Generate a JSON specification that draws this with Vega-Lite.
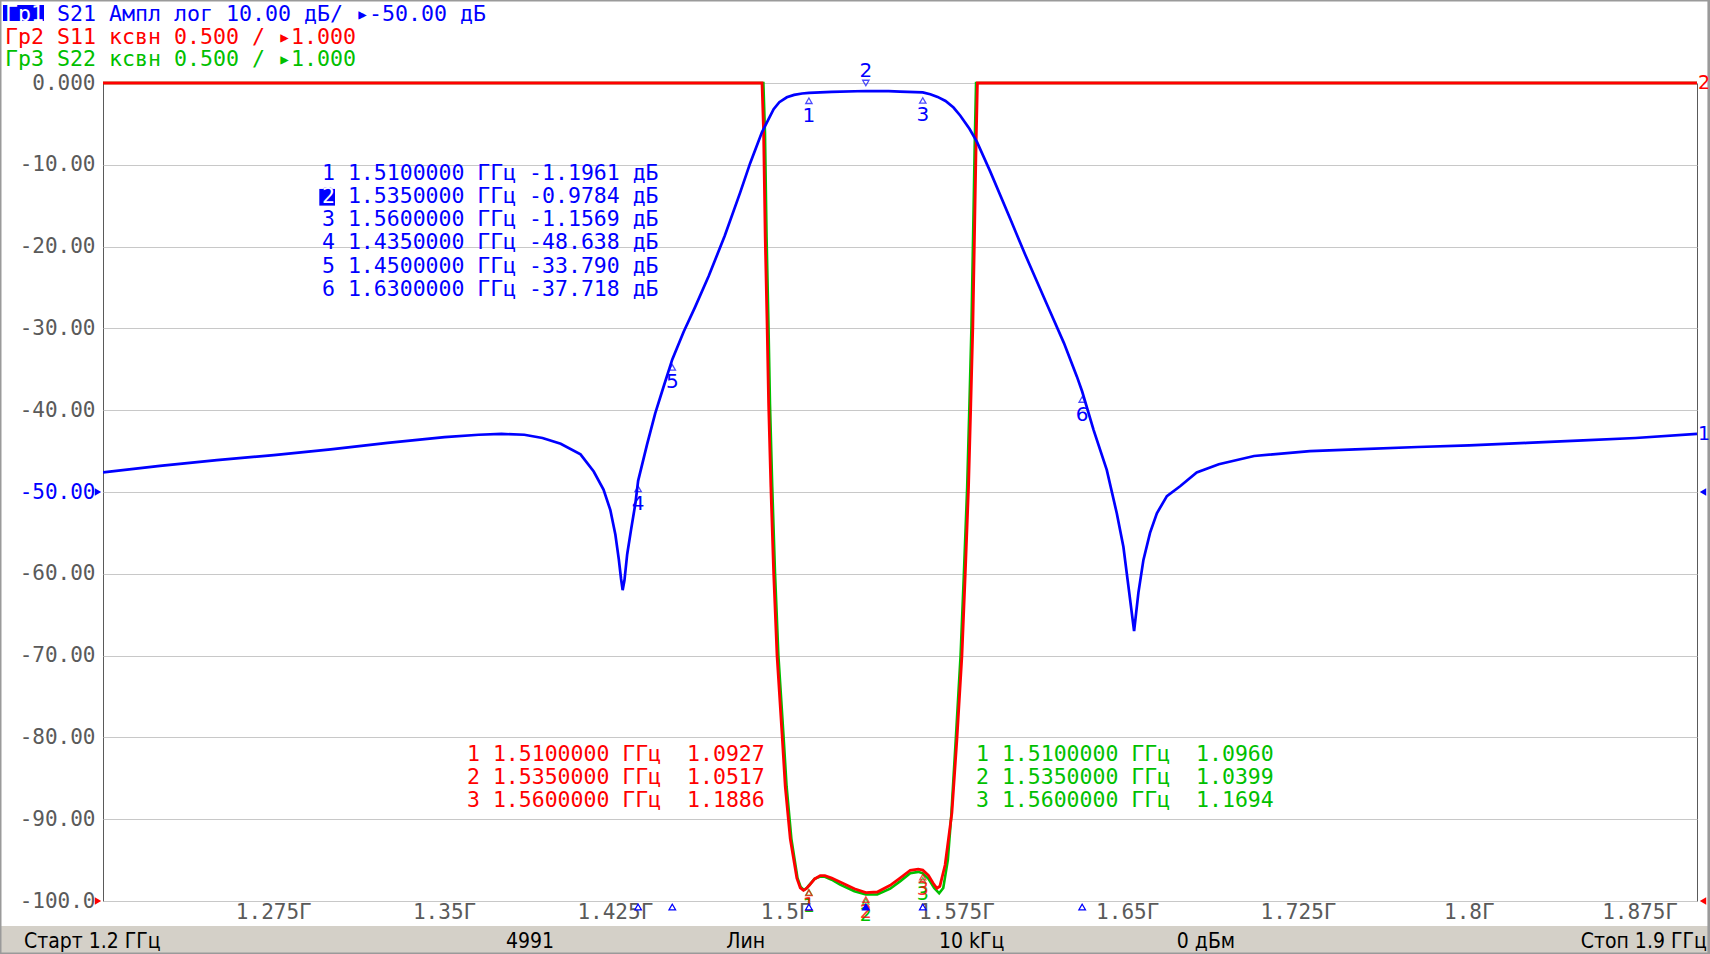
{
  "$schema": "https://vega.github.io/schema/vega-lite/v6.json",
  "width": 1594,
  "height": 818,
  "autosize": {"type": "none"},
  "padding": {"left": 103, "top": 83, "right": 13, "bottom": 53},
  "background": "#ffffff",
  "config": {
    "view": {"stroke": "#5a5a5a", "strokeWidth": 1},
    "axis": {"gridColor": "#c8c8c8", "gridWidth": 1, "domain": false, "ticks": false, "labelFont": "DejaVu Sans Mono", "labelFontSize": 21, "labelColor": "#5a5a5a"}
  },
  "datasets": {
    "s21": [
      {"f": 1.2, "db": -47.6}, {"f": 1.225, "db": -46.8}, {"f": 1.25, "db": -46.1}, {"f": 1.275, "db": -45.5},
      {"f": 1.3, "db": -44.8}, {"f": 1.325, "db": -44.0}, {"f": 1.35, "db": -43.3}, {"f": 1.365, "db": -43.0},
      {"f": 1.375, "db": -42.9}, {"f": 1.385, "db": -43.0}, {"f": 1.393, "db": -43.4}, {"f": 1.401, "db": -44.1},
      {"f": 1.4097, "db": -45.4}, {"f": 1.4155, "db": -47.5}, {"f": 1.4198, "db": -49.7}, {"f": 1.4228, "db": -52.2},
      {"f": 1.425, "db": -55.2}, {"f": 1.4265, "db": -58.2}, {"f": 1.4275, "db": -60.6}, {"f": 1.4282, "db": -62.0},
      {"f": 1.429, "db": -60.8}, {"f": 1.4302, "db": -57.6}, {"f": 1.4319, "db": -54.6}, {"f": 1.4338, "db": -51.4},
      {"f": 1.435, "db": -48.638}, {"f": 1.4389, "db": -44.2}, {"f": 1.4425, "db": -40.4}, {"f": 1.4462, "db": -37.1},
      {"f": 1.45, "db": -33.79}, {"f": 1.455, "db": -30.4}, {"f": 1.46, "db": -27.4}, {"f": 1.466, "db": -23.6},
      {"f": 1.473, "db": -18.7}, {"f": 1.4798, "db": -13.4}, {"f": 1.4842, "db": -9.8}, {"f": 1.4894, "db": -6.0},
      {"f": 1.4945, "db": -3.2}, {"f": 1.497, "db": -2.35}, {"f": 1.5003, "db": -1.75}, {"f": 1.5035, "db": -1.45},
      {"f": 1.507, "db": -1.28}, {"f": 1.51, "db": -1.1961},
      {"f": 1.52, "db": -1.08}, {"f": 1.535, "db": -0.9784}, {"f": 1.545, "db": -1.0}, {"f": 1.55, "db": -1.05},
      {"f": 1.56, "db": -1.1569}, {"f": 1.5633, "db": -1.38}, {"f": 1.5665, "db": -1.7}, {"f": 1.57, "db": -2.2},
      {"f": 1.5735, "db": -3.0}, {"f": 1.5765, "db": -4.0}, {"f": 1.5805, "db": -5.6}, {"f": 1.5838, "db": -7.2},
      {"f": 1.5896, "db": -10.8}, {"f": 1.5984, "db": -16.6}, {"f": 1.605, "db": -21.0}, {"f": 1.6146, "db": -27.1},
      {"f": 1.622, "db": -31.8}, {"f": 1.6277, "db": -35.9}, {"f": 1.63, "db": -37.718}, {"f": 1.635, "db": -42.4},
      {"f": 1.6408, "db": -47.3}, {"f": 1.6452, "db": -52.6}, {"f": 1.6481, "db": -56.7}, {"f": 1.6503, "db": -61.5},
      {"f": 1.6528, "db": -67.0}, {"f": 1.6547, "db": -62.3}, {"f": 1.6569, "db": -58.3}, {"f": 1.6598, "db": -55.0},
      {"f": 1.6628, "db": -52.6}, {"f": 1.6672, "db": -50.5}, {"f": 1.673, "db": -49.3}, {"f": 1.6803, "db": -47.6},
      {"f": 1.69, "db": -46.6}, {"f": 1.7055, "db": -45.6}, {"f": 1.73, "db": -45.0}, {"f": 1.75, "db": -44.8},
      {"f": 1.7774, "db": -44.5}, {"f": 1.8, "db": -44.3}, {"f": 1.8253, "db": -44.0}, {"f": 1.85, "db": -43.7},
      {"f": 1.873, "db": -43.4}, {"f": 1.9, "db": -42.9}
    ],
    "s11": [
      {"f": 1.2, "vswr": 6}, {"f": 1.4894, "vswr": 6}, {"f": 1.4901, "vswr": 5.7}, {"f": 1.4908, "vswr": 5.06},
      {"f": 1.4916, "vswr": 4.55}, {"f": 1.4923, "vswr": 4.04}, {"f": 1.4933, "vswr": 3.53}, {"f": 1.4945, "vswr": 3.01},
      {"f": 1.496, "vswr": 2.5}, {"f": 1.4982, "vswr": 2.02}, {"f": 1.4996, "vswr": 1.7}, {"f": 1.5018, "vswr": 1.38},
      {"f": 1.5047, "vswr": 1.14}, {"f": 1.5062, "vswr": 1.08}, {"f": 1.5076, "vswr": 1.065}, {"f": 1.5088, "vswr": 1.075},
      {"f": 1.51, "vswr": 1.0927}, {"f": 1.5125, "vswr": 1.135}, {"f": 1.515, "vswr": 1.155}, {"f": 1.517, "vswr": 1.155},
      {"f": 1.52, "vswr": 1.14}, {"f": 1.5237, "vswr": 1.116}, {"f": 1.53, "vswr": 1.075}, {"f": 1.535, "vswr": 1.0517},
      {"f": 1.54, "vswr": 1.055}, {"f": 1.5457, "vswr": 1.096}, {"f": 1.55, "vswr": 1.14}, {"f": 1.5545, "vswr": 1.188},
      {"f": 1.558, "vswr": 1.195}, {"f": 1.56, "vswr": 1.1886}, {"f": 1.5625, "vswr": 1.157}, {"f": 1.5645, "vswr": 1.11},
      {"f": 1.5662, "vswr": 1.078}, {"f": 1.5675, "vswr": 1.09}, {"f": 1.5698, "vswr": 1.22}, {"f": 1.5728, "vswr": 1.54},
      {"f": 1.575, "vswr": 1.99}, {"f": 1.5772, "vswr": 2.5}, {"f": 1.5786, "vswr": 2.98}, {"f": 1.5801, "vswr": 3.53},
      {"f": 1.5811, "vswr": 4.04}, {"f": 1.582, "vswr": 4.52}, {"f": 1.5827, "vswr": 5.06}, {"f": 1.5834, "vswr": 5.61},
      {"f": 1.584, "vswr": 6}, {"f": 1.9, "vswr": 6}
    ],
    "s22": [
      {"f": 1.2, "vswr": 6}, {"f": 1.49, "vswr": 6}, {"f": 1.4907, "vswr": 5.7}, {"f": 1.4914, "vswr": 5.06},
      {"f": 1.4922, "vswr": 4.55}, {"f": 1.4929, "vswr": 4.04}, {"f": 1.4939, "vswr": 3.53}, {"f": 1.4951, "vswr": 3.01},
      {"f": 1.4966, "vswr": 2.5}, {"f": 1.4988, "vswr": 2.02}, {"f": 1.5002, "vswr": 1.7}, {"f": 1.5023, "vswr": 1.38},
      {"f": 1.505, "vswr": 1.14}, {"f": 1.5064, "vswr": 1.085}, {"f": 1.5078, "vswr": 1.068}, {"f": 1.509, "vswr": 1.078},
      {"f": 1.51, "vswr": 1.096}, {"f": 1.5125, "vswr": 1.135}, {"f": 1.515, "vswr": 1.15}, {"f": 1.517, "vswr": 1.148},
      {"f": 1.52, "vswr": 1.13}, {"f": 1.5237, "vswr": 1.1}, {"f": 1.53, "vswr": 1.06}, {"f": 1.535, "vswr": 1.0399},
      {"f": 1.54, "vswr": 1.04}, {"f": 1.5457, "vswr": 1.075}, {"f": 1.55, "vswr": 1.12}, {"f": 1.5545, "vswr": 1.17},
      {"f": 1.558, "vswr": 1.178}, {"f": 1.56, "vswr": 1.1694}, {"f": 1.5625, "vswr": 1.135}, {"f": 1.565, "vswr": 1.08},
      {"f": 1.5672, "vswr": 1.047}, {"f": 1.569, "vswr": 1.08}, {"f": 1.571, "vswr": 1.25}, {"f": 1.5725, "vswr": 1.52},
      {"f": 1.5745, "vswr": 1.99}, {"f": 1.5766, "vswr": 2.5}, {"f": 1.578, "vswr": 2.98}, {"f": 1.5795, "vswr": 3.53},
      {"f": 1.5805, "vswr": 4.04}, {"f": 1.5814, "vswr": 4.52}, {"f": 1.5821, "vswr": 5.06}, {"f": 1.5828, "vswr": 5.61},
      {"f": 1.5834, "vswr": 6}, {"f": 1.9, "vswr": 6}
    ],
    "m21": [
      {"num": "1", "f": 1.51, "val": -1.1961, "active": false},
      {"num": "2", "f": 1.535, "val": -0.9784, "active": true},
      {"num": "3", "f": 1.56, "val": -1.1569, "active": false},
      {"num": "4", "f": 1.435, "val": -48.638, "active": false},
      {"num": "5", "f": 1.45, "val": -33.79, "active": false},
      {"num": "6", "f": 1.63, "val": -37.718, "active": false}
    ],
    "m11": [
      {"num": "1", "f": 1.51, "val": 1.0927}, {"num": "2", "f": 1.535, "val": 1.0517}, {"num": "3", "f": 1.56, "val": 1.1886}
    ],
    "m22": [
      {"num": "1", "f": 1.51, "val": 1.096}, {"num": "2", "f": 1.535, "val": 1.0399}, {"num": "3", "f": 1.56, "val": 1.1694}
    ],
    "xticks": [
      {"f": 1.275, "label": "1.275Г"}, {"f": 1.35, "label": "1.35Г"}, {"f": 1.425, "label": "1.425Г"},
      {"f": 1.5, "label": "1.5Г"}, {"f": 1.575, "label": "1.575Г"}, {"f": 1.65, "label": "1.65Г"},
      {"f": 1.725, "label": "1.725Г"}, {"f": 1.8, "label": "1.8Г"}, {"f": 1.875, "label": "1.875Г"}
    ],
    "one": [{"k": 1}]
  },
  "layer": [
    {
      "data": {"name": "one"},
      "mark": {"type": "rect", "color": "#d4d0c8"},
      "encoding": {
        "x": {"datum": 1.15477, "type": "quantitative", "axis": null},
        "x2": {"datum": 1.90523},
        "y": {"datum": -103.06, "type": "quantitative", "scale": {"domain": [-100, 0], "nice": false, "zero": false}, "axis": null},
        "y2": {"datum": -106.48}
      }
    },
    {
      "data": {"name": "one"},
      "mark": {"type": "rect", "fillOpacity": 0, "stroke": "#9a9a9a", "strokeWidth": 3},
      "encoding": {
        "x": {"datum": 1.15477, "type": "quantitative", "axis": null},
        "x2": {"datum": 1.90523},
        "y": {"datum": 10.15, "type": "quantitative", "scale": {"domain": [-100, 0], "nice": false, "zero": false}, "axis": null},
        "y2": {"datum": -106.48}
      }
    },
    {
      "data": {"name": "s21"},
      "mark": {"type": "line", "color": "#0000ff", "strokeWidth": 2.6, "clip": true, "opacity": 0},
      "encoding": {
        "x": {
          "field": "f", "type": "quantitative", "title": null,
          "scale": {"domain": [1.2, 1.9], "nice": false, "zero": false},
          "axis": {
            "orient": "bottom",
            "values": [1.275, 1.35, 1.425, 1.5, 1.575, 1.65, 1.725, 1.8, 1.875],
            "grid": true, "labels": false
          }
        },
        "y": {
          "field": "db", "type": "quantitative", "title": null,
          "scale": {"domain": [-100, 0], "nice": false, "zero": false},
          "axis": {
            "orient": "left",
            "values": [-100, -90, -80, -70, -60, -50, -40, -30, -20, -10, 0],
            "labelExpr": "datum.value == 0 ? '0.000' : (datum.value == -100 ? '-100.0' : '-' + format(-datum.value, '.2f'))",
            "grid": true, "labelPadding": 8, "labelFlush": false, "labelOverlap": false,
            "labelColor": {"condition": {"test": "datum.value == -50", "value": "#0000ff"}, "value": "#5a5a5a"}
          }
        }
      }
    },
    {
      "data": {"name": "xticks"},
      "mark": {"type": "text", "color": "#5a5a5a", "font": "DejaVu Sans Mono", "fontSize": 21, "baseline": "top", "align": "center", "dy": 1},
      "encoding": {
        "x": {"field": "f", "type": "quantitative", "axis": null},
        "y": {"datum": -100, "type": "quantitative", "scale": {"domain": [-100, 0], "nice": false, "zero": false}, "axis": null},
        "text": {"field": "label"}
      }
    },
    {
      "data": {"name": "s22"},
      "mark": {"type": "line", "color": "#00c000", "strokeWidth": 2.6, "clip": false},
      "encoding": {
        "x": {"field": "f", "type": "quantitative", "axis": null},
        "y": {"field": "vswr", "type": "quantitative", "scale": {"domain": [1, 6], "nice": false, "zero": false}, "axis": null}
      }
    },
    {
      "data": {"name": "s11"},
      "mark": {"type": "line", "color": "#ff0000", "strokeWidth": 2.8, "clip": false},
      "encoding": {
        "x": {"field": "f", "type": "quantitative", "axis": null},
        "y": {"field": "vswr", "type": "quantitative", "scale": {"domain": [1, 6], "nice": false, "zero": false}, "axis": null}
      }
    },
    {
      "data": {"name": "m22"},
      "mark": {"type": "point", "shape": "triangle-up", "filled": false, "color": "#00c000", "size": 40, "strokeWidth": 1.3, "yOffset": 7},
      "encoding": {
        "x": {"field": "f", "type": "quantitative", "axis": null},
        "y": {"field": "val", "type": "quantitative", "scale": {"domain": [1, 6], "nice": false, "zero": false}, "axis": null}
      }
    },
    {
      "data": {"name": "m22"},
      "mark": {"type": "text", "color": "#00c000", "font": "DejaVu Sans", "fontSize": 19, "dy": 21, "baseline": "middle"},
      "encoding": {
        "x": {"field": "f", "type": "quantitative", "axis": null},
        "y": {"field": "val", "type": "quantitative", "scale": {"domain": [1, 6], "nice": false, "zero": false}, "axis": null},
        "text": {"field": "num"}
      }
    },
    {
      "data": {"name": "m11"},
      "mark": {"type": "point", "shape": "triangle-up", "filled": false, "color": "#ff0000", "size": 40, "strokeWidth": 1.3, "yOffset": 7},
      "encoding": {
        "x": {"field": "f", "type": "quantitative", "axis": null},
        "y": {"field": "val", "type": "quantitative", "scale": {"domain": [1, 6], "nice": false, "zero": false}, "axis": null}
      }
    },
    {
      "data": {"name": "m11"},
      "mark": {"type": "text", "color": "#ff0000", "font": "DejaVu Sans", "fontSize": 19, "dy": 19, "baseline": "middle", "opacity": 0.8},
      "encoding": {
        "x": {"field": "f", "type": "quantitative", "axis": null},
        "y": {"field": "val", "type": "quantitative", "scale": {"domain": [1, 6], "nice": false, "zero": false}, "axis": null},
        "text": {"field": "num"}
      }
    },
    {
      "data": {"name": "s21"},
      "mark": {"type": "line", "color": "#0000ff", "strokeWidth": 2.7, "clip": true},
      "encoding": {
        "x": {"field": "f", "type": "quantitative", "axis": null},
        "y": {"field": "db", "type": "quantitative", "scale": {"domain": [-100, 0], "nice": false, "zero": false}, "axis": null}
      }
    },
    {
      "data": {"name": "m21"},
      "transform": [{"filter": "!datum.active"}],
      "mark": {"type": "point", "shape": "triangle-up", "filled": false, "color": "#0000ff", "size": 40, "strokeWidth": 1.3, "yOffset": 8},
      "encoding": {
        "x": {"field": "f", "type": "quantitative", "axis": null},
        "y": {"field": "val", "type": "quantitative", "scale": {"domain": [-100, 0], "nice": false, "zero": false}, "axis": null}
      }
    },
    {
      "data": {"name": "m21"},
      "transform": [{"filter": "!datum.active"}],
      "mark": {"type": "text", "color": "#0000ff", "font": "DejaVu Sans", "fontSize": 20, "dy": 23, "baseline": "middle"},
      "encoding": {
        "x": {"field": "f", "type": "quantitative", "axis": null},
        "y": {"field": "val", "type": "quantitative", "scale": {"domain": [-100, 0], "nice": false, "zero": false}, "axis": null},
        "text": {"field": "num"}
      }
    },
    {
      "data": {"name": "m21"},
      "transform": [{"filter": "datum.active"}],
      "mark": {"type": "point", "shape": "triangle-down", "filled": false, "color": "#0000ff", "size": 40, "strokeWidth": 1.3, "yOffset": -8},
      "encoding": {
        "x": {"field": "f", "type": "quantitative", "axis": null},
        "y": {"field": "val", "type": "quantitative", "scale": {"domain": [-100, 0], "nice": false, "zero": false}, "axis": null}
      }
    },
    {
      "data": {"name": "m21"},
      "transform": [{"filter": "datum.active"}],
      "mark": {"type": "text", "color": "#0000ff", "font": "DejaVu Sans", "fontSize": 20, "dy": -20, "baseline": "middle"},
      "encoding": {
        "x": {"field": "f", "type": "quantitative", "axis": null},
        "y": {"field": "val", "type": "quantitative", "scale": {"domain": [-100, 0], "nice": false, "zero": false}, "axis": null},
        "text": {"field": "num"}
      }
    },
    {
      "data": {"name": "m21"},
      "mark": {"type": "point", "shape": "triangle-up", "color": "#0000ff", "size": 45, "strokeWidth": 1.2, "yOffset": 6, "fillOpacity": 1},
      "encoding": {
        "x": {"field": "f", "type": "quantitative", "axis": null},
        "y": {"datum": -100, "type": "quantitative", "scale": {"domain": [-100, 0], "nice": false, "zero": false}, "axis": null},
        "fill": {"condition": {"test": "datum.active", "value": "#0000ff"}, "value": "#ffffff"}
      }
    },
    {
      "data": {"name": "one"},
      "mark": {"type": "point", "shape": "triangle-right", "filled": true, "color": "#0000ff", "size": 55, "xOffset": -5, "opacity": 1},
      "encoding": {
        "x": {"datum": 1.2, "type": "quantitative", "axis": null},
        "y": {"datum": -50, "type": "quantitative", "scale": {"domain": [-100, 0], "nice": false, "zero": false}, "axis": null}
      }
    },
    {
      "data": {"name": "one"},
      "mark": {"type": "point", "shape": "triangle-right", "filled": true, "color": "#ff0000", "size": 55, "xOffset": -5, "opacity": 1},
      "encoding": {
        "x": {"datum": 1.2, "type": "quantitative", "axis": null},
        "y": {"datum": -100, "type": "quantitative", "scale": {"domain": [-100, 0], "nice": false, "zero": false}, "axis": null}
      }
    },
    {
      "data": {"name": "one"},
      "mark": {"type": "point", "shape": "triangle-left", "filled": true, "color": "#0000ff", "size": 55, "xOffset": 6, "opacity": 1},
      "encoding": {
        "x": {"datum": 1.9, "type": "quantitative", "axis": null},
        "y": {"datum": -50, "type": "quantitative", "scale": {"domain": [-100, 0], "nice": false, "zero": false}, "axis": null}
      }
    },
    {
      "data": {"name": "one"},
      "mark": {"type": "point", "shape": "triangle-left", "filled": true, "color": "#ff0000", "size": 55, "xOffset": 6, "opacity": 1},
      "encoding": {
        "x": {"datum": 1.9, "type": "quantitative", "axis": null},
        "y": {"datum": -100, "type": "quantitative", "scale": {"domain": [-100, 0], "nice": false, "zero": false}, "axis": null}
      }
    },
    {
      "data": {"name": "one"},
      "mark": {"type": "text", "color": "#0000ff", "font": "DejaVu Sans", "fontSize": 19, "align": "left", "baseline": "middle", "dx": 1},
      "encoding": {
        "x": {"datum": 1.9, "type": "quantitative", "axis": null},
        "y": {"datum": -42.9, "type": "quantitative", "scale": {"domain": [-100, 0], "nice": false, "zero": false}, "axis": null},
        "text": {"value": "1"}
      }
    },
    {
      "data": {"name": "one"},
      "mark": {"type": "text", "color": "#ff0000", "font": "DejaVu Sans", "fontSize": 19, "align": "left", "baseline": "middle", "dx": 1},
      "encoding": {
        "x": {"datum": 1.9, "type": "quantitative", "axis": null},
        "y": {"datum": 0, "type": "quantitative", "scale": {"domain": [-100, 0], "nice": false, "zero": false}, "axis": null},
        "text": {"value": "2"}
      }
    },
    {
      "data": {"name": "one"},
      "mark": {"type": "rect", "color": "#0000ff"},
      "encoding": {
        "x": {"datum": 1.15608, "type": "quantitative", "axis": null},
        "x2": {"datum": 1.17409},
        "y": {"datum": 9.54, "type": "quantitative", "scale": {"domain": [-100, 0], "nice": false, "zero": false}, "axis": null},
        "y2": {"datum": 7.58}
      }
    },
    {
      "data": {"name": "one"},
      "mark": {"type": "text", "color": "#ffffff", "font": "DejaVu Sans Mono", "fontSize": 21.6, "align": "left", "baseline": "middle"},
      "encoding": {
        "x": {"datum": 1.15696, "type": "quantitative", "axis": null},
        "y": {"datum": 8.33, "type": "quantitative", "scale": {"domain": [-100, 0], "nice": false, "zero": false}, "axis": null},
        "text": {"value": "Гр1"}
      }
    },
    {
      "data": {"name": "one"},
      "mark": {"type": "text", "color": "#0000ff", "font": "DejaVu Sans Mono", "fontSize": 21.6, "align": "left", "baseline": "middle"},
      "encoding": {
        "x": {"datum": 1.1798, "type": "quantitative", "axis": null},
        "y": {"datum": 8.33, "type": "quantitative", "scale": {"domain": [-100, 0], "nice": false, "zero": false}, "axis": null},
        "text": {"value": "S21 Ампл лог 10.00 дБ/ ▸-50.00 дБ"}
      }
    },
    {
      "data": {"name": "one"},
      "mark": {"type": "text", "color": "#ff0000", "font": "DejaVu Sans Mono", "fontSize": 21.6, "align": "left", "baseline": "middle"},
      "encoding": {
        "x": {"datum": 1.15696, "type": "quantitative", "axis": null},
        "y": {"datum": 5.55, "type": "quantitative", "scale": {"domain": [-100, 0], "nice": false, "zero": false}, "axis": null},
        "text": {"value": "Гр2 S11 ксвн 0.500 / ▸1.000"}
      }
    },
    {
      "data": {"name": "one"},
      "mark": {"type": "text", "color": "#00c000", "font": "DejaVu Sans Mono", "fontSize": 21.6, "align": "left", "baseline": "middle"},
      "encoding": {
        "x": {"datum": 1.15696, "type": "quantitative", "axis": null},
        "y": {"datum": 2.82, "type": "quantitative", "scale": {"domain": [-100, 0], "nice": false, "zero": false}, "axis": null},
        "text": {"value": "Гр3 S22 ксвн 0.500 / ▸1.000"}
      }
    },
    {
      "data": {"name": "one"},
      "mark": {"type": "text", "color": "#0000ff", "font": "DejaVu Sans Mono", "fontSize": 21.5, "align": "left", "baseline": "top", "lineHeight": 23.2},
      "encoding": {
        "x": {"datum": 1.29617, "type": "quantitative", "axis": null},
        "y": {"datum": -9.75, "type": "quantitative", "scale": {"domain": [-100, 0], "nice": false, "zero": false}, "axis": null},
        "text": {"value": ["1", "2", "3", "4", "5", "6"]}
      }
    },
    {
      "data": {"name": "one"},
      "mark": {"type": "rect", "color": "#0000ff"},
      "encoding": {
        "x": {"datum": 1.29499, "type": "quantitative", "axis": null},
        "x2": {"datum": 1.30189},
        "y": {"datum": -12.95, "type": "quantitative", "scale": {"domain": [-100, 0], "nice": false, "zero": false}, "axis": null},
        "y2": {"datum": -14.99}
      }
    },
    {
      "data": {"name": "one"},
      "mark": {"type": "text", "color": "#ffffff", "font": "DejaVu Sans Mono", "fontSize": 21.5, "align": "left", "baseline": "top"},
      "encoding": {
        "x": {"datum": 1.29617, "type": "quantitative", "axis": null},
        "y": {"datum": -12.59, "type": "quantitative", "scale": {"domain": [-100, 0], "nice": false, "zero": false}, "axis": null},
        "text": {"value": "2"}
      }
    },
    {
      "data": {"name": "one"},
      "mark": {"type": "text", "color": "#0000ff", "font": "DejaVu Sans Mono", "fontSize": 21.5, "align": "left", "baseline": "top", "lineHeight": 23.2},
      "encoding": {
        "x": {"datum": 1.30755, "type": "quantitative", "axis": null},
        "y": {"datum": -9.75, "type": "quantitative", "scale": {"domain": [-100, 0], "nice": false, "zero": false}, "axis": null},
        "text": {"value": ["1.5100000 ГГц -1.1961 дБ", "1.5350000 ГГц -0.9784 дБ", "1.5600000 ГГц -1.1569 дБ", "1.4350000 ГГц -48.638 дБ", "1.4500000 ГГц -33.790 дБ", "1.6300000 ГГц -37.718 дБ"]}
      }
    },
    {
      "data": {"name": "one"},
      "mark": {"type": "text", "color": "#ff0000", "font": "DejaVu Sans Mono", "fontSize": 21.5, "align": "left", "baseline": "top", "lineHeight": 23.3},
      "encoding": {
        "x": {"datum": 1.35985, "type": "quantitative", "axis": null},
        "y": {"datum": -80.78, "type": "quantitative", "scale": {"domain": [-100, 0], "nice": false, "zero": false}, "axis": null},
        "text": {"value": ["1 1.5100000 ГГц\u00a0 1.0927", "2 1.5350000 ГГц\u00a0 1.0517", "3 1.5600000 ГГц\u00a0 1.1886"]}
      }
    },
    {
      "data": {"name": "one"},
      "mark": {"type": "text", "color": "#00c000", "font": "DejaVu Sans Mono", "fontSize": 21.5, "align": "left", "baseline": "top", "lineHeight": 23.3},
      "encoding": {
        "x": {"datum": 1.58338, "type": "quantitative", "axis": null},
        "y": {"datum": -80.78, "type": "quantitative", "scale": {"domain": [-100, 0], "nice": false, "zero": false}, "axis": null},
        "text": {"value": ["1 1.5100000 ГГц\u00a0 1.0960", "2 1.5350000 ГГц\u00a0 1.0399", "3 1.5600000 ГГц\u00a0 1.1694"]}
      }
    },
    {
      "data": {"name": "one"},
      "mark": {"type": "text", "color": "#000000", "font": "Liberation Sans Narrow, DejaVu Sans Condensed", "fontSize": 21, "align": "left", "baseline": "middle"},
      "encoding": {
        "x": {"datum": 1.16531, "type": "quantitative", "axis": null},
        "y": {"datum": -105.0, "type": "quantitative", "scale": {"domain": [-100, 0], "nice": false, "zero": false}, "axis": null},
        "text": {"value": "Старт 1.2 ГГц"}
      }
    },
    {
      "data": {"name": "one"},
      "mark": {"type": "text", "color": "#000000", "font": "Liberation Sans Narrow, DejaVu Sans Condensed", "fontSize": 21, "align": "left", "baseline": "middle"},
      "encoding": {
        "x": {"datum": 1.37698, "type": "quantitative", "axis": null},
        "y": {"datum": -105.0, "type": "quantitative", "scale": {"domain": [-100, 0], "nice": false, "zero": false}, "axis": null},
        "text": {"value": "4991"}
      }
    },
    {
      "data": {"name": "one"},
      "mark": {"type": "text", "color": "#000000", "font": "Liberation Sans Narrow, DejaVu Sans Condensed", "fontSize": 21, "align": "left", "baseline": "middle"},
      "encoding": {
        "x": {"datum": 1.47372, "type": "quantitative", "axis": null},
        "y": {"datum": -105.0, "type": "quantitative", "scale": {"domain": [-100, 0], "nice": false, "zero": false}, "axis": null},
        "text": {"value": "Лин"}
      }
    },
    {
      "data": {"name": "one"},
      "mark": {"type": "text", "color": "#000000", "font": "Liberation Sans Narrow, DejaVu Sans Condensed", "fontSize": 21, "align": "left", "baseline": "middle"},
      "encoding": {
        "x": {"datum": 1.56713, "type": "quantitative", "axis": null},
        "y": {"datum": -105.0, "type": "quantitative", "scale": {"domain": [-100, 0], "nice": false, "zero": false}, "axis": null},
        "text": {"value": "10 kГц"}
      }
    },
    {
      "data": {"name": "one"},
      "mark": {"type": "text", "color": "#000000", "font": "Liberation Sans Narrow, DejaVu Sans Condensed", "fontSize": 21, "align": "left", "baseline": "middle"},
      "encoding": {
        "x": {"datum": 1.67156, "type": "quantitative", "axis": null},
        "y": {"datum": -105.0, "type": "quantitative", "scale": {"domain": [-100, 0], "nice": false, "zero": false}, "axis": null},
        "text": {"value": "0 дБм"}
      }
    },
    {
      "data": {"name": "one"},
      "mark": {"type": "text", "color": "#000000", "font": "Liberation Sans Narrow, DejaVu Sans Condensed", "fontSize": 21, "align": "right", "baseline": "middle"},
      "encoding": {
        "x": {"datum": 1.90431, "type": "quantitative", "axis": null},
        "y": {"datum": -105.0, "type": "quantitative", "scale": {"domain": [-100, 0], "nice": false, "zero": false}, "axis": null},
        "text": {"value": "Стоп 1.9 ГГц"}
      }
    }
  ],
  "resolve": {"scale": {"y": "independent"}}
}
